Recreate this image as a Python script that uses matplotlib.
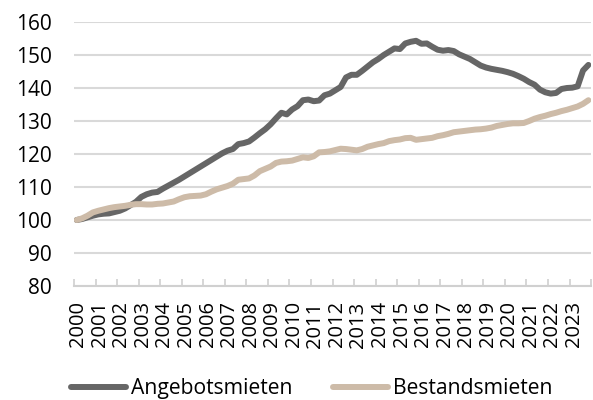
import numpy as np
import matplotlib
matplotlib.use("Agg")
import matplotlib.pyplot as plt

plt.rcParams['font.family'] = ['Open Sans', 'DejaVu Sans']

years = list(range(2000, 2024))

# quarterly index values, 2000 = 100
angebot = [
    100.0, 100.3, 100.8, 101.3,
    101.7, 101.9, 102.0, 102.4,
    102.8, 103.5, 104.5, 105.5,
    107.0, 107.8, 108.3, 108.5,
    109.5, 110.4, 111.3, 112.2,
    113.2, 114.2, 115.2, 116.2,
    117.2, 118.2, 119.2, 120.2,
    121.0, 121.5, 123.0, 123.3,
    123.8, 125.0, 126.3, 127.5,
    129.0, 130.8, 132.5, 132.0,
    133.5, 134.5, 136.3, 136.5,
    136.0, 136.2, 137.8, 138.3,
    139.3, 140.3, 143.2, 144.0,
    144.0, 145.2, 146.5, 147.8,
    148.8, 150.0, 151.0, 152.0,
    151.8, 153.5, 154.0, 154.3,
    153.4, 153.5, 152.5, 151.6,
    151.3, 151.5, 151.2, 150.2,
    149.5, 148.8, 147.8, 146.8,
    146.2, 145.8, 145.5, 145.2,
    144.8, 144.3, 143.6, 142.8,
    141.8, 141.0, 139.5, 138.7,
    138.3, 138.5, 139.7, 140.0,
    140.1, 140.5, 145.3, 147.0,
]
bestand = [
    100.0, 100.5, 101.3, 102.3,
    102.8, 103.2, 103.6, 103.9,
    104.1, 104.3, 104.6, 104.8,
    104.8, 104.7, 104.7, 104.9,
    105.0, 105.3, 105.6, 106.3,
    106.9, 107.2, 107.3, 107.4,
    107.8, 108.6, 109.3, 109.8,
    110.3, 111.0, 112.2, 112.4,
    112.6, 113.5, 114.8, 115.5,
    116.2, 117.3, 117.7, 117.8,
    118.0, 118.5, 119.0, 118.8,
    119.3, 120.5, 120.6, 120.8,
    121.2, 121.6, 121.5, 121.3,
    121.1, 121.5, 122.2, 122.6,
    123.0, 123.3, 123.9, 124.2,
    124.4, 124.8, 124.9, 124.3,
    124.5, 124.7, 124.9, 125.4,
    125.7, 126.1, 126.6, 126.8,
    127.0, 127.2, 127.4, 127.5,
    127.7, 128.0, 128.5, 128.8,
    129.1, 129.3, 129.3, 129.4,
    130.0, 130.7, 131.2, 131.6,
    132.1, 132.5, 133.0, 133.4,
    133.9, 134.4, 135.2, 136.3,
]

x = np.arange(len(angebot)) + 0.5

fig = plt.figure(figsize=(5.93, 4.0), dpi=100)
ax = fig.add_axes([0.1248, 0.285, 0.872, 0.66])

ax.plot(x, angebot, color='#666666', lw=4.3, solid_capstyle='round',
        label='Angebotsmieten', zorder=3)
ax.plot(x, bestand, color='#cdbba8', lw=4.3, solid_capstyle='round',
        label='Bestandsmieten', zorder=3)

ax.set_xlim(0, len(angebot))
ax.set_ylim(80, 160)
ax.set_yticks(range(80, 161, 10))
ax.yaxis.grid(True, color='#d9d9d9', lw=1.5)
ax.set_axisbelow(True)

# year boundaries as ticks, labels near the first quarter of each year
ax.set_xticks(np.arange(0, len(angebot) + 1, 4))
ax.set_xticklabels([])
ax.set_xticks(np.arange(0, len(angebot), 4) + 0.8, minor=True)
ax.set_xticklabels([str(y) for y in years], minor=True, rotation=90,
                   fontsize=14.5, va='top')
ax.tick_params(axis='x', which='major', direction='in', length=5,
               color='#d0d0d0', width=1.2)
ax.tick_params(axis='x', which='minor', length=0, pad=11)
ax.tick_params(axis='y', length=0, labelsize=15, pad=16)

for s in ['top', 'right', 'left']:
    ax.spines[s].set_visible(False)
ax.spines['bottom'].set_color('#d0d0d0')
ax.spines['bottom'].set_linewidth(1.5)

fig.legend(loc='center left', bbox_to_anchor=(0.088, 0.028), ncol=2,
           frameon=False, fontsize=15.2, handlelength=2.6, handletextpad=0.25,
           columnspacing=1.9)

fig.savefig('out.png', dpi=100)
